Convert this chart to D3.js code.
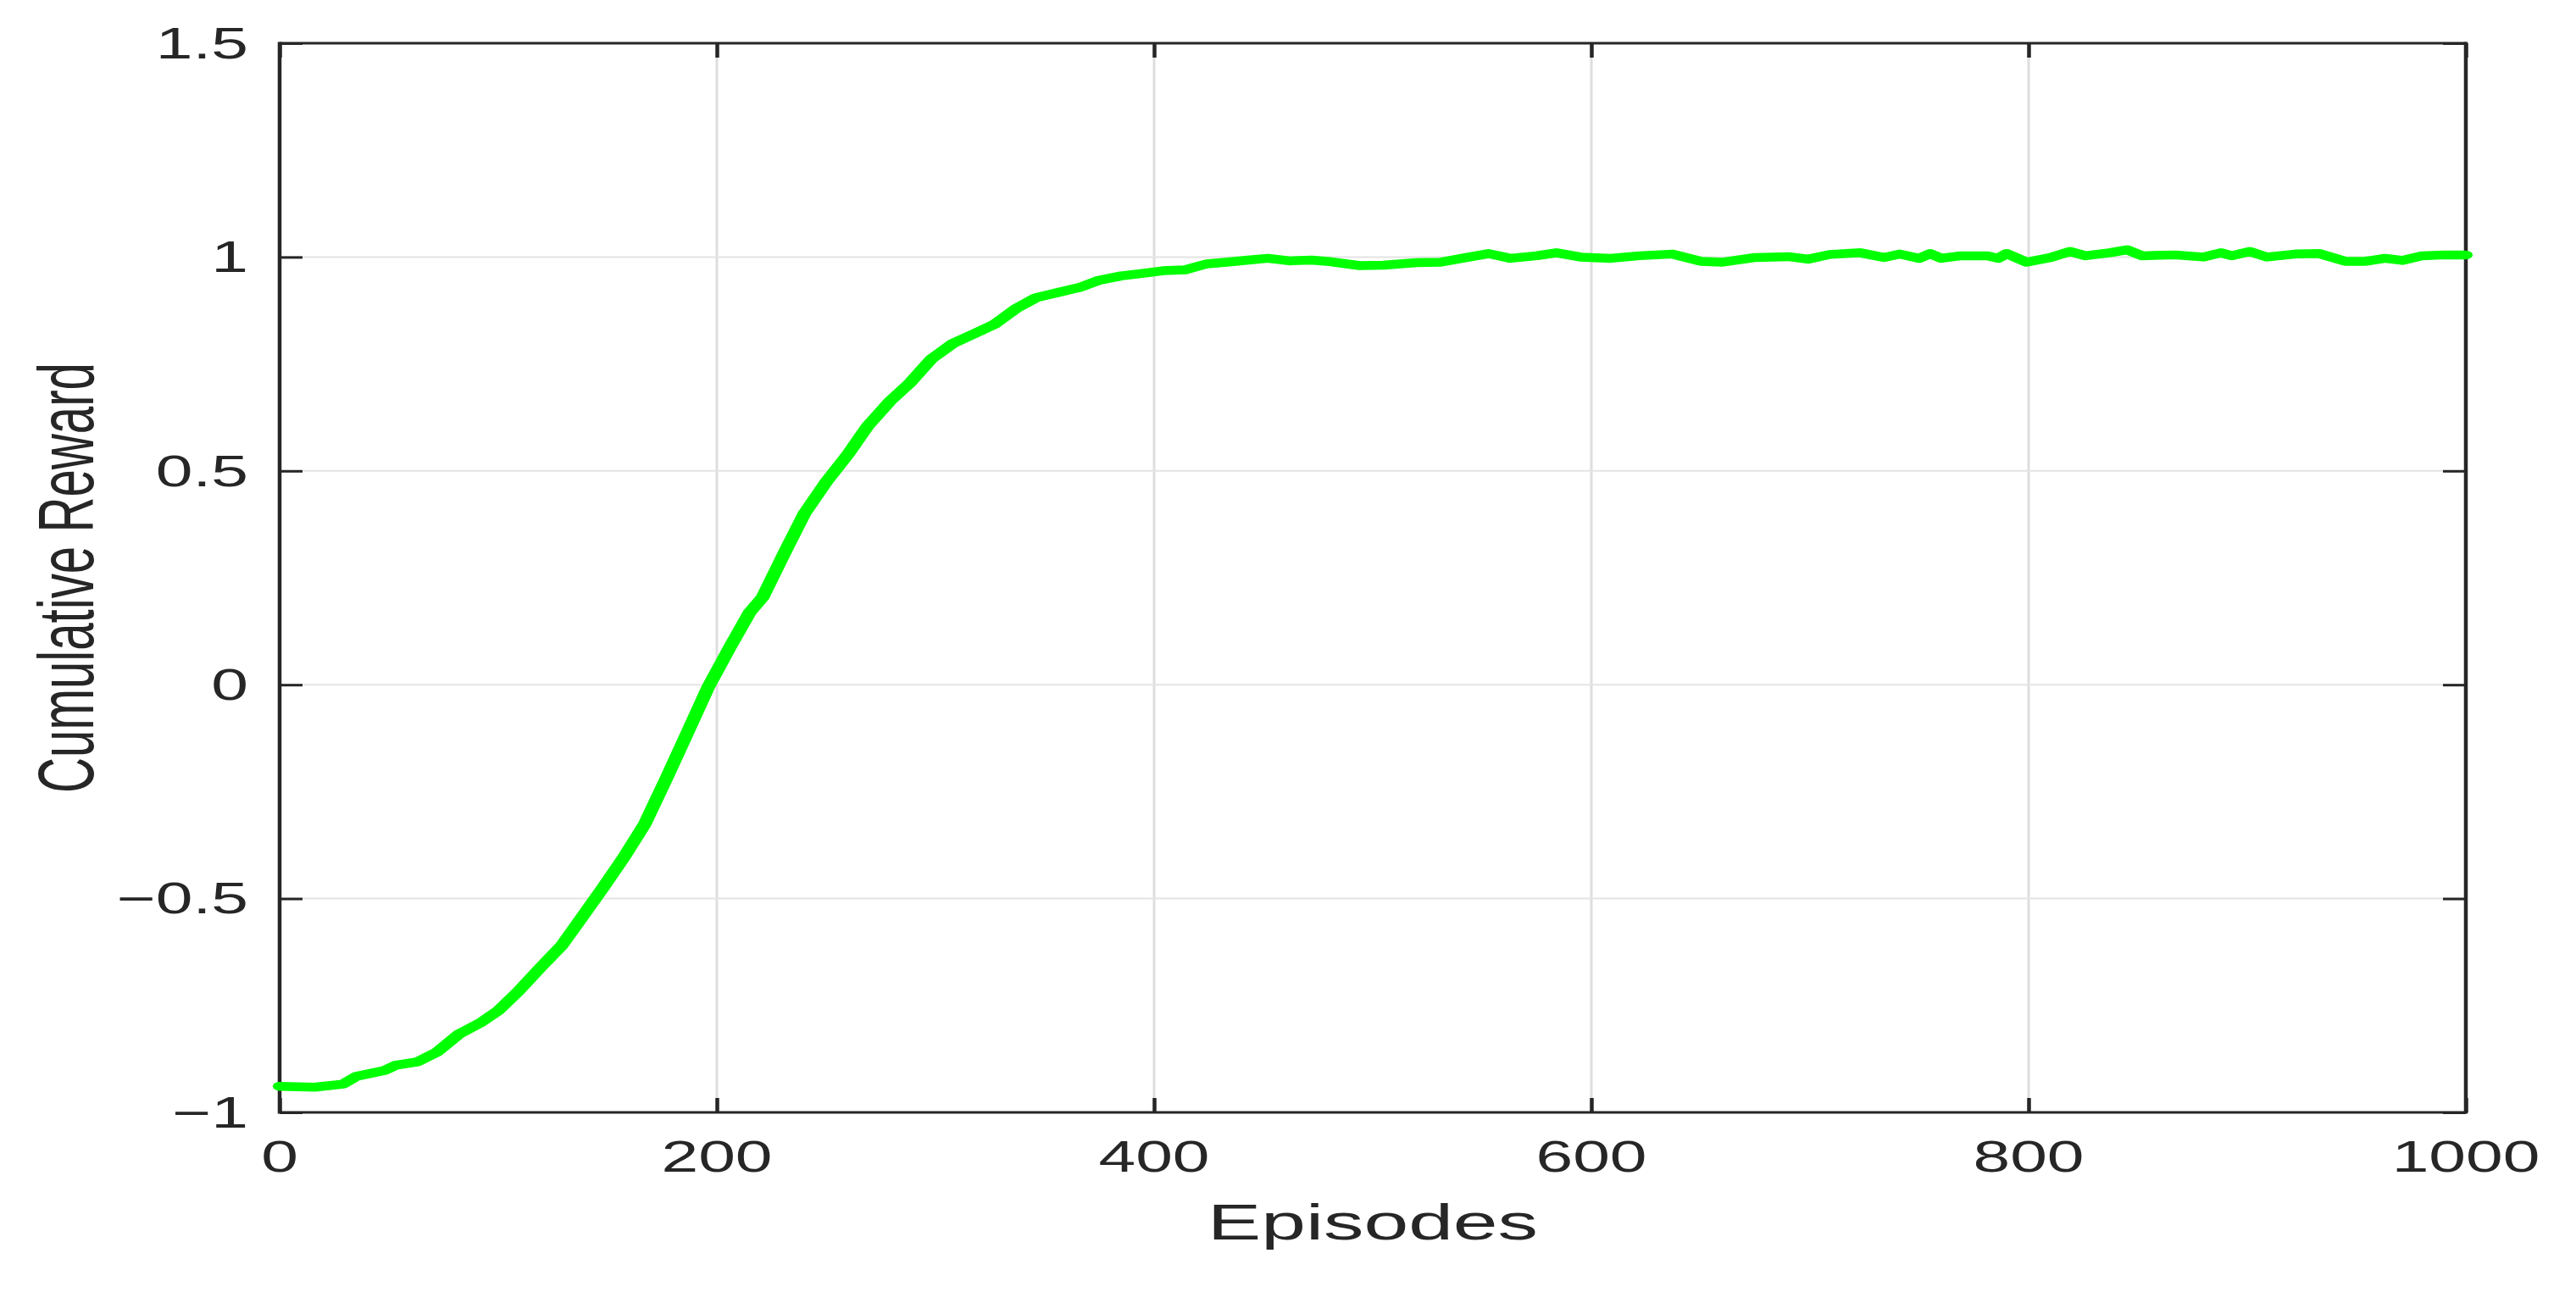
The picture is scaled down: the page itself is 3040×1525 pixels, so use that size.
<!DOCTYPE html>
<html>
<head>
<meta charset="utf-8">
<script src="https://cdn.jsdelivr.net/npm/d3@7"></script>
<style>
  body { margin: 0; background: #fff; }
  text { font-family: "Liberation Sans", Arial, sans-serif; fill: #262626; }
</style>
</head>
<body>
<div id="chart"></div>
<script>
// values
var episodes = [0,16,29,35,48,53,63,72,82,92,
  100,109,119,129,138,148,157,167,177,186,
  196,206,215,221,231,240,250,260,269,279,
  288,298,308,317,327,337,346,356,366,375,
  385,395,404,414,424,433,443,452,462,472,
  479,494,505,520,531,543,553,563,575,584,
  595,609,622,637,650,660,675,690,699,709,
  723,734,741,750,755,760,769,781,786,790,
  799,810,819,826,837,845,852,867,880,888,
  893,901,909,922,933,945,954,963,971,980,
  990,1000];

var reward = [-0.939,-0.941,-0.934,-0.916,-0.902,-0.890,-0.882,-0.859,-0.817,-0.790,
  -0.762,-0.718,-0.663,-0.610,-0.546,-0.474,-0.407,-0.326,-0.218,-0.118,
  -0.006,0.088,0.169,0.205,0.309,0.400,0.474,0.539,0.605,0.662,
  0.704,0.761,0.798,0.819,0.843,0.880,0.905,0.917,0.929,0.946,
  0.956,0.962,0.968,0.970,0.984,0.988,0.993,0.997,0.991,0.993,
  0.990,0.980,0.981,0.987,0.988,0.999,1.008,0.997,1.003,1.010,
  1.000,0.997,1.003,1.007,0.990,0.988,0.999,1.001,0.995,1.006,
  1.010,0.999,1.007,0.997,1.008,0.997,1.003,1.003,0.997,1.008,
  0.988,0.999,1.013,1.003,1.010,1.017,1.003,1.005,1.000,1.010,
  1.003,1.013,1.000,1.007,1.008,0.990,0.990,0.997,0.992,1.003,
  1.005,1.005];

var xTicks = [0, 200, 400, 600, 800, 1000];
var yTicks = [-1, -0.5, 0, 0.5, 1, 1.5];
var yTickLabels = ["\u22121", "\u22120.5", "0", "0.5", "1", "1.5"];

var W = 3040, H = 1525;
var margin = {top: 51, right: 130, bottom: 212, left: 330},
    width = W - margin.left - margin.right,
    height = H - margin.top - margin.bottom;

// the source figure is stretched sideways, so text and the curve get the same stretch
var stretch = 1.54;
var axisColor = "#262626";

var svg = d3.select("#chart").append("svg")
    .attr("width", W)
    .attr("height", H);

var g = svg.append("g")
    .attr("transform", "translate(" + margin.left + "," + margin.top + ")");

var x = d3.scaleLinear().domain([0, 1000]).range([0, width]);
var y = d3.scaleLinear().domain([-1, 1.5]).range([height, 0]);

// grid
g.append("g").selectAll("line")
  .data(xTicks.slice(1, -1))
  .enter().append("line")
  .attr("x1", function(d) { return x(d); })
  .attr("x2", function(d) { return x(d); })
  .attr("y1", 0).attr("y2", height)
  .attr("stroke", "#dedede")
  .attr("stroke-width", 3);

g.append("g").selectAll("line")
  .data(yTicks.slice(1, -1))
  .enter().append("line")
  .attr("x1", 0).attr("x2", width)
  .attr("y1", function(d) { return y(d); })
  .attr("y2", function(d) { return y(d); })
  .attr("stroke", "#e4e4e4")
  .attr("stroke-width", 2);

// inward ticks on all four sides
function ticks(sel, w) {
  sel.select(".domain").remove();
  sel.selectAll(".tick line").attr("stroke", axisColor).attr("stroke-width", w);
}
g.append("g").attr("transform", "translate(0," + height + ")")
  .call(d3.axisBottom(x).tickValues(xTicks).tickSize(-17).tickFormat(""))
  .call(ticks, 4.5);
g.append("g")
  .call(d3.axisTop(x).tickValues(xTicks).tickSize(-17).tickFormat(""))
  .call(ticks, 4.5);
g.append("g")
  .call(d3.axisLeft(y).tickValues(yTicks).tickSize(-27).tickFormat(""))
  .call(ticks, 3);
g.append("g").attr("transform", "translate(" + width + ",0)")
  .call(d3.axisRight(y).tickValues(yTicks).tickSize(-27).tickFormat(""))
  .call(ticks, 3);

// box
var box = g.append("g").attr("stroke", axisColor);
box.append("line").attr("x1", 0).attr("x2", width).attr("y1", 0).attr("y2", 0).attr("stroke-width", 3);
box.append("line").attr("x1", 0).attr("x2", width).attr("y1", height).attr("y2", height).attr("stroke-width", 3);
box.append("line").attr("x1", 0).attr("x2", 0).attr("y1", -1.5).attr("y2", height + 1.5).attr("stroke-width", 4.5);
box.append("line").attr("x1", width).attr("x2", width).attr("y1", -1.5).attr("y2", height + 1.5).attr("stroke-width", 4.5);

// tick labels
g.selectAll(".xlabel")
  .data(xTicks)
  .enter().append("text")
  .attr("class", "xlabel")
  .attr("transform", function(d) { return "translate(" + x(d) + "," + (height + 70) + ") scale(" + stretch + ",1)"; })
  .attr("text-anchor", "middle")
  .attr("font-size", 51)
  .text(function(d) { return d; });

g.selectAll(".ylabel")
  .data(yTicks)
  .enter().append("text")
  .attr("class", "ylabel")
  .attr("transform", function(d) { return "translate(-37," + y(d) + ") scale(" + stretch + ",1)"; })
  .attr("text-anchor", "end")
  .attr("dy", "0.35em")
  .attr("font-size", 51)
  .text(function(d, i) { return yTickLabels[i]; });

// axis titles
g.append("text")
  .attr("transform", "translate(" + (width / 2) + "," + (height + 150) + ") scale(1.58,1)")
  .attr("text-anchor", "middle")
  .attr("font-size", 60)
  .text("Episodes");

g.append("text")
  .attr("transform", "translate(-220," + (682 - margin.top) + ") scale(1.55,1) rotate(-90)")
  .attr("text-anchor", "middle")
  .attr("font-size", 60)
  .attr("textLength", 508)
  .attr("lengthAdjust", "spacingAndGlyphs")
  .text("Cumulative Reward");

// reward curve, drawn in the unstretched frame so the pen gets the same sideways stretch
var xs = d3.scaleLinear().domain([0, 1000]).range([0, width / stretch]);
var line = d3.line()
  .x(function(d, i) { return xs(episodes[i]); })
  .y(function(d) { return y(d); });

g.append("g")
  .attr("transform", "scale(" + stretch + ",1)")
  .append("path")
  .datum(reward)
  .attr("d", line)
  .attr("fill", "none")
  .attr("stroke", "#00ff00")
  .attr("stroke-width", 10.5)
  .attr("stroke-linejoin", "round")
  .attr("stroke-linecap", "round");
</script>
</body>
</html>
